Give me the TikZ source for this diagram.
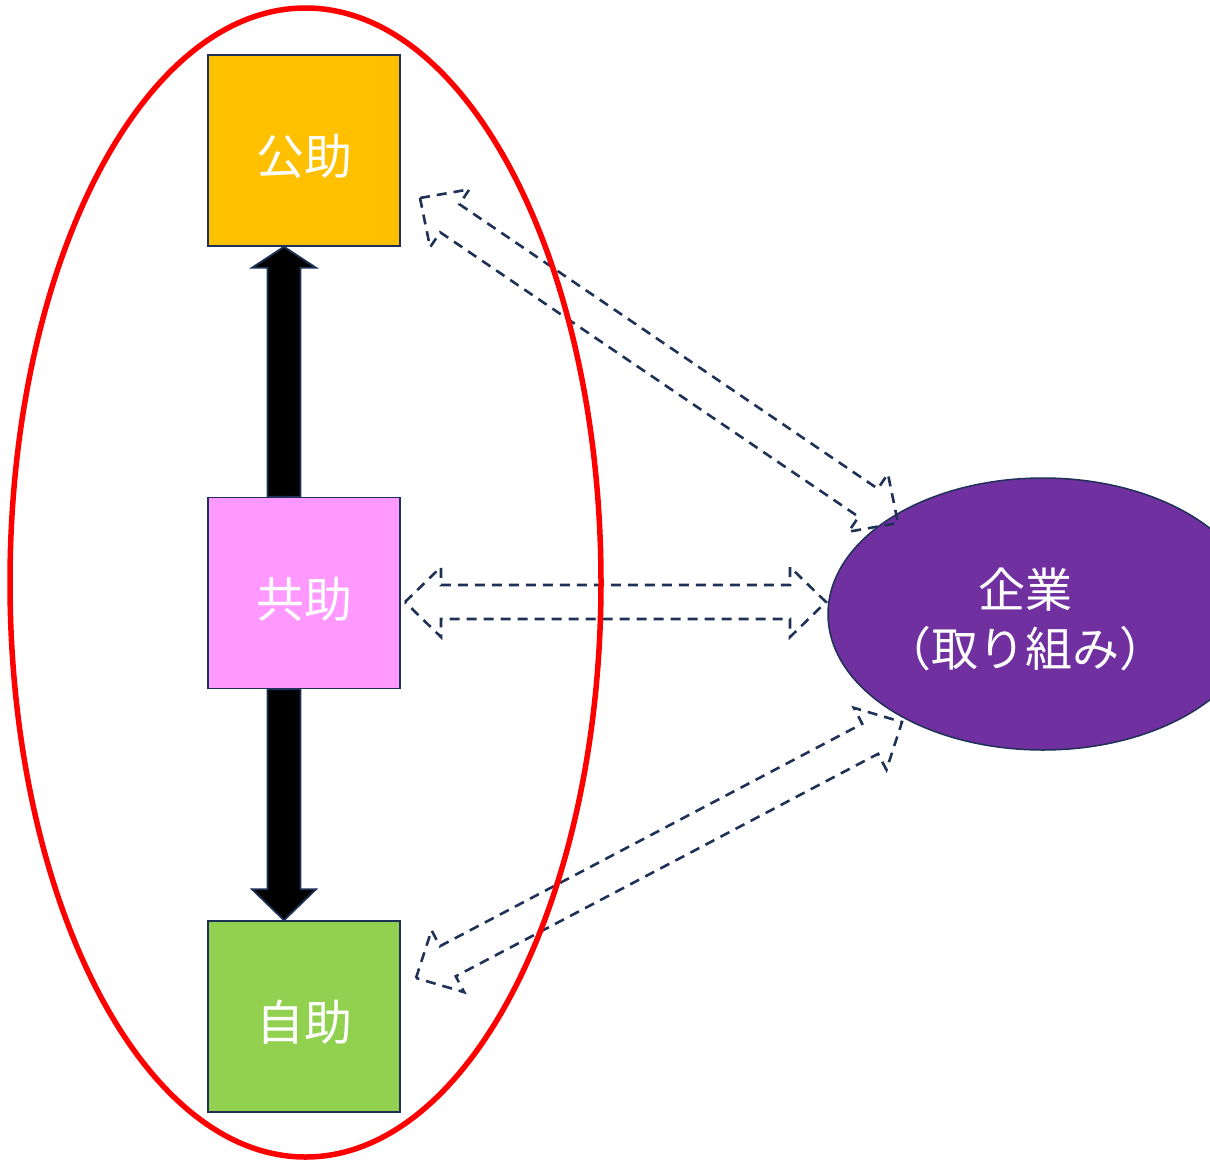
\documentclass[tikz,border=0pt]{standalone}
\usepackage{fontspec}
\newfontfamily\jpfont{Noto Sans CJK JP}
\usetikzlibrary{calc,shapes.geometric}

\definecolor{navy}{HTML}{1F3157}
\definecolor{kojocol}{HTML}{FFC000}
\definecolor{kyojocol}{HTML}{FF99FF}
\definecolor{jijocol}{HTML}{92D050}
\definecolor{kigyocol}{HTML}{7030A0}

% hollow two-headed block arrow, dashed outline: #1 name, #2 one tip, #3 other tip
\newcommand\hollowarrow[3]{%
  \coordinate (#1-p) at ($(#2)!36pt!(#3)$);
  \coordinate (#1-q) at ($(#3)!36pt!(#2)$);
  \draw[dasharrow] (#2)
    -- ($(#1-p)!35pt!90:(#3)$) -- ($(#1-p)!17pt!90:(#3)$)
    -- ($(#1-q)!17pt!-90:(#2)$) -- ($(#1-q)!35pt!-90:(#2)$)
    -- (#3)
    -- ($(#1-q)!35pt!90:(#2)$) -- ($(#1-q)!17pt!90:(#2)$)
    -- ($(#1-p)!17pt!-90:(#3)$) -- ($(#1-p)!35pt!-90:(#3)$)
    -- cycle;}

% filled one-headed block arrow: #1 name, #2 tail, #3 tip, #4 head length
\newcommand\solidarrow[4]{%
  \coordinate (#1-q) at ($(#3)!#4!(#2)$);
  \draw[blockarrow] ($(#2)!16.5pt!90:(#3)$)
    -- ($(#1-q)!16.5pt!-90:(#2)$) -- ($(#1-q)!32pt!-90:(#2)$)
    -- (#3)
    -- ($(#1-q)!32pt!90:(#2)$) -- ($(#1-q)!16.5pt!90:(#2)$)
    -- ($(#2)!16.5pt!-90:(#3)$) -- cycle;}

\begin{document}
\begin{tikzpicture}[x=1pt,y=-1pt,
  sqbox/.style={draw=navy, line width=1.5pt, minimum width=192pt,
    minimum height=191pt, inner sep=0pt, text=white,
    text height=50pt, text depth=2pt,
    font=\jpfont\fontsize{48}{58}\selectfont},
  dasharrow/.style={draw=navy, line width=2.6pt, dash pattern=on 10pt off 7pt,
    line join=miter},
  blockarrow/.style={draw=navy, fill=black, line width=1.8pt, line join=miter}]

\useasboundingbox (0,0) rectangle (1210,1160);
\clip (0,0) rectangle (1210,1160);

% the three kinds of help
\node[sqbox, fill=kojocol]  (kojo)  at (304,150.5) {公助};
\node[sqbox, fill=kyojocol] (kyojo) at (304,593)   {共助};
\node[sqbox, fill=jijocol]  (jijo)  at (304,1016.5){自助};

% the company
\node[ellipse, draw=navy, line width=1.5pt, fill=kigyocol,
  minimum width=430pt, minimum height=272pt, inner sep=0pt] (kigyo)
  at (1043,614) {};
\node[text=white, align=center, inner sep=0pt,
  font=\jpfont\fontsize{47}{59}\selectfont] (kigyo-text) at (1025,619)
  {企業\\（取り組み）};

% links inside the group
\coordinate (up-tail)   at ([xshift=-20pt]kyojo.north);
\coordinate (up-tip)    at ([xshift=-20pt]kojo.south);
\coordinate (down-tail) at ([xshift=-20pt]kyojo.south);
\coordinate (down-tip)  at ([xshift=-20pt]jijo.north);
\solidarrow{up}{up-tail}{up-tip}{21pt}
\solidarrow{down}{down-tail}{down-tip}{31pt}

% links to the company
\coordinate (t-a) at (420,198);
\coordinate (t-b) at (898,523);
\coordinate (m-a) at (405,602);
\coordinate (m-b) at (826,602);
\coordinate (b-a) at (416,978);
\coordinate (b-b) at (902,722);
\hollowarrow{top}{t-a}{t-b}
\hollowarrow{mid}{m-a}{m-b}
\hollowarrow{bot}{b-a}{b-b}

% the group outline
\node[ellipse, draw=red, line width=5.5pt, minimum width=591pt,
  minimum height=1149pt, inner sep=0pt] (group) at (305.5,582.5) {};
\end{tikzpicture}
\end{document}
